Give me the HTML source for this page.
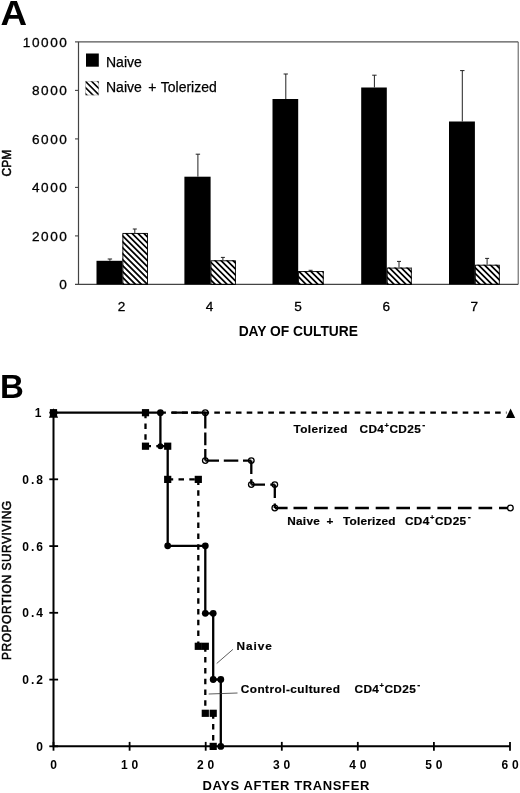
<!DOCTYPE html>
<html><head><meta charset="utf-8"><title>Figure</title>
<style>html,body{margin:0;padding:0;background:#fff;}svg{display:block;will-change:transform;}text{font-family:"Liberation Sans", sans-serif;fill:#000;}</style>
</head><body>
<svg width="520" height="793" viewBox="0 0 520 793">
<defs>
</defs>
<rect width="520" height="793" fill="#fff"/>
<text transform="translate(0.6 25.2) scale(1.07 1)" font-size="34.4" font-weight="bold">A</text>
<path d="M75.0 41.9 H518.2" stroke="#555" stroke-width="1.2" fill="none"/>
<path d="M518.2 41.9 V284.4" stroke="#555" stroke-width="1" fill="none"/>
<path d="M78.5 41.9 V284.4" stroke="#444" stroke-width="1.2" fill="none"/>
<path d="M75.0 284.4 H518.2" stroke="#444" stroke-width="1.4" fill="none"/>
<text x="68.4" y="289.3" font-size="13.6" letter-spacing="1.55" text-anchor="end" stroke="#000" stroke-width="0.3">0</text>
<path d="M75.0 235.9 H78.5" stroke="#444" stroke-width="1.1"/>
<text x="68.4" y="240.8" font-size="13.6" letter-spacing="1.55" text-anchor="end" stroke="#000" stroke-width="0.3">2000</text>
<path d="M75.0 187.4 H78.5" stroke="#444" stroke-width="1.1"/>
<text x="68.4" y="192.3" font-size="13.6" letter-spacing="1.55" text-anchor="end" stroke="#000" stroke-width="0.3">4000</text>
<path d="M75.0 138.9 H78.5" stroke="#444" stroke-width="1.1"/>
<text x="68.4" y="143.8" font-size="13.6" letter-spacing="1.55" text-anchor="end" stroke="#000" stroke-width="0.3">6000</text>
<path d="M75.0 90.4 H78.5" stroke="#444" stroke-width="1.1"/>
<text x="68.4" y="95.3" font-size="13.6" letter-spacing="1.55" text-anchor="end" stroke="#000" stroke-width="0.3">8000</text>
<text x="68.4" y="46.8" font-size="13.6" letter-spacing="1.55" text-anchor="end" stroke="#000" stroke-width="0.3">10000</text>
<rect x="86" y="53.5" width="12.8" height="13.2" fill="#000"/>
<clipPath id="cl"><rect x="85.40" y="81.00" width="13.60" height="14.20"/></clipPath><path d="M83.40 66.90 L101.00 84.50 M83.40 73.10 L101.00 90.70 M83.40 79.30 L101.00 96.90 M83.40 85.50 L101.00 103.10 M83.40 91.70 L101.00 109.30" stroke="#000" stroke-width="1.60" fill="none" clip-path="url(#cl)"/>
<rect x="85.6" y="81.2" width="13.2" height="13.8" fill="none" stroke="#999" stroke-width="0.5"/>
<text x="106" y="66.6" font-size="14" stroke="#000" stroke-width="0.25">Naive</text>
<text x="106" y="92.4" font-size="14" word-spacing="2.1" stroke="#000" stroke-width="0.25">Naive <tspan dx="0.5">+</tspan> <tspan dx="-1.5">Tolerized</tspan></text>
<rect x="96.5" y="260.8" width="25.9" height="23.6" fill="#000"/>
<clipPath id="c0"><rect x="122.40" y="233.00" width="25.50" height="51.40"/></clipPath><path d="M120.40 203.95 L149.90 233.45 M120.40 209.89 L149.90 239.39 M120.40 215.83 L149.90 245.33 M120.40 221.77 L149.90 251.27 M120.40 227.71 L149.90 257.21 M120.40 233.65 L149.90 263.15 M120.40 239.59 L149.90 269.09 M120.40 245.53 L149.90 275.03 M120.40 251.47 L149.90 280.97 M120.40 257.41 L149.90 286.91 M120.40 263.35 L149.90 292.85 M120.40 269.29 L149.90 298.79 M120.40 275.23 L149.90 304.73 M120.40 281.17 L149.90 310.67" stroke="#000" stroke-width="1.75" fill="none" clip-path="url(#c0)"/>
<rect x="122.9" y="233.4" width="24.6" height="50.9" fill="none" stroke="#000" stroke-width="0.9"/>
<path d="M109.9 260.8 V259.0 M107.7 259.0 H112.1" stroke="#222" stroke-width="1" fill="none"/>
<path d="M134.8 233.0 V229.0 M132.8 229.0 H136.8" stroke="#222" stroke-width="1" fill="none"/>
<rect x="184.4" y="176.7" width="26.2" height="107.7" fill="#000"/>
<clipPath id="c1"><rect x="210.60" y="260.30" width="25.30" height="24.10"/></clipPath><path d="M208.60 230.27 L237.90 259.57 M208.60 236.21 L237.90 265.51 M208.60 242.15 L237.90 271.45 M208.60 248.09 L237.90 277.39 M208.60 254.03 L237.90 283.33 M208.60 259.97 L237.90 289.27 M208.60 265.91 L237.90 295.21 M208.60 271.85 L237.90 301.15 M208.60 277.79 L237.90 307.09 M208.60 283.73 L237.90 313.03" stroke="#000" stroke-width="1.75" fill="none" clip-path="url(#c1)"/>
<rect x="211.0" y="260.8" width="24.4" height="23.6" fill="none" stroke="#000" stroke-width="0.9"/>
<path d="M197.9 176.7 V154.2 M195.7 154.2 H200.1" stroke="#222" stroke-width="1" fill="none"/>
<path d="M222.9 260.3 V257.4 M220.9 257.4 H224.9" stroke="#222" stroke-width="1" fill="none"/>
<rect x="272.5" y="99.0" width="25.7" height="185.4" fill="#000"/>
<clipPath id="c2"><rect x="298.20" y="271.10" width="25.50" height="13.30"/></clipPath><path d="M296.20 244.85 L325.70 274.35 M296.20 250.79 L325.70 280.29 M296.20 256.73 L325.70 286.23 M296.20 262.67 L325.70 292.17 M296.20 268.61 L325.70 298.11 M296.20 274.55 L325.70 304.05 M296.20 280.49 L325.70 309.99" stroke="#000" stroke-width="1.75" fill="none" clip-path="url(#c2)"/>
<rect x="298.6" y="271.6" width="24.6" height="12.8" fill="none" stroke="#000" stroke-width="0.9"/>
<path d="M285.8 99.0 V74.0 M283.6 74.0 H287.9" stroke="#222" stroke-width="1" fill="none"/>
<path d="M310.6 271.1 V270.3 M308.6 270.3 H312.6" stroke="#222" stroke-width="1" fill="none"/>
<rect x="361.2" y="87.5" width="25.6" height="196.9" fill="#000"/>
<clipPath id="c3"><rect x="386.80" y="267.60" width="25.00" height="16.80"/></clipPath><path d="M384.80 239.45 L413.80 268.45 M384.80 245.39 L413.80 274.39 M384.80 251.33 L413.80 280.33 M384.80 257.27 L413.80 286.27 M384.80 263.21 L413.80 292.21 M384.80 269.15 L413.80 298.15 M384.80 275.09 L413.80 304.09 M384.80 281.03 L413.80 310.03" stroke="#000" stroke-width="1.75" fill="none" clip-path="url(#c3)"/>
<rect x="387.2" y="268.1" width="24.1" height="16.3" fill="none" stroke="#000" stroke-width="0.9"/>
<path d="M374.4 87.5 V75.2 M372.2 75.2 H376.6" stroke="#222" stroke-width="1" fill="none"/>
<path d="M399.0 267.6 V261.4 M397.0 261.4 H401.0" stroke="#222" stroke-width="1" fill="none"/>
<rect x="449.0" y="121.5" width="25.9" height="162.9" fill="#000"/>
<clipPath id="c4"><rect x="474.90" y="264.80" width="24.90" height="19.60"/></clipPath><path d="M472.90 235.60 L501.80 264.50 M472.90 241.54 L501.80 270.44 M472.90 247.48 L501.80 276.38 M472.90 253.42 L501.80 282.32 M472.90 259.36 L501.80 288.26 M472.90 265.30 L501.80 294.20 M472.90 271.24 L501.80 300.14 M472.90 277.18 L501.80 306.08 M472.90 283.12 L501.80 312.02" stroke="#000" stroke-width="1.75" fill="none" clip-path="url(#c4)"/>
<rect x="475.3" y="265.2" width="24.0" height="19.1" fill="none" stroke="#000" stroke-width="0.9"/>
<path d="M462.3 121.5 V70.6 M460.1 70.6 H464.5" stroke="#222" stroke-width="1" fill="none"/>
<path d="M487.1 264.8 V258.4 M485.1 258.4 H489.1" stroke="#222" stroke-width="1" fill="none"/>
<text x="121.6" y="311.2" font-size="13.6" text-anchor="middle" stroke="#000" stroke-width="0.3">2</text>
<text x="209.6" y="311.2" font-size="13.6" text-anchor="middle" stroke="#000" stroke-width="0.3">4</text>
<text x="298.0" y="311.2" font-size="13.6" text-anchor="middle" stroke="#000" stroke-width="0.3">5</text>
<text x="386.4" y="311.2" font-size="13.6" text-anchor="middle" stroke="#000" stroke-width="0.3">6</text>
<text x="474.2" y="311.2" font-size="13.6" text-anchor="middle" stroke="#000" stroke-width="0.3">7</text>
<text x="298.3" y="336.1" font-size="13.8" font-weight="bold" text-anchor="middle">DAY OF CULTURE</text>
<text transform="translate(11.2 163.2) rotate(-90)" font-size="12" text-anchor="middle" stroke="#000" stroke-width="0.5">CPM</text>
<text x="0" y="398" font-size="33" font-weight="bold">B</text>
<path d="M53.5 412.6 V746.3 H510.0" stroke="#000" stroke-width="2" fill="none"/>
<path d="M49.3 746.3 H58.1" stroke="#000" stroke-width="1.8"/>
<text x="45.0" y="750.7" font-size="12" font-weight="bold" letter-spacing="2" text-anchor="end">0</text>
<path d="M49.3 679.6 H58.1" stroke="#000" stroke-width="1.8"/>
<text x="45.0" y="684.0" font-size="12" font-weight="bold" letter-spacing="2" text-anchor="end">0.2</text>
<path d="M49.3 612.8 H58.1" stroke="#000" stroke-width="1.8"/>
<text x="45.0" y="617.2" font-size="12" font-weight="bold" letter-spacing="2" text-anchor="end">0.4</text>
<path d="M49.3 546.1 H58.1" stroke="#000" stroke-width="1.8"/>
<text x="45.0" y="550.5" font-size="12" font-weight="bold" letter-spacing="2" text-anchor="end">0.6</text>
<path d="M49.3 479.3 H58.1" stroke="#000" stroke-width="1.8"/>
<text x="45.0" y="483.7" font-size="12" font-weight="bold" letter-spacing="2" text-anchor="end">0.8</text>
<path d="M49.3 412.6 H58.1" stroke="#000" stroke-width="1.8"/>
<text x="43.4" y="417.0" font-size="12" font-weight="bold" letter-spacing="2" text-anchor="end">1</text>
<path d="M53.5 741.9 V750.7" stroke="#000" stroke-width="1.8"/>
<text x="55.4" y="769" font-size="12" font-weight="bold" letter-spacing="3.8" text-anchor="middle">0</text>
<path d="M129.6 741.9 V750.7" stroke="#000" stroke-width="1.8"/>
<text x="131.5" y="769" font-size="12" font-weight="bold" letter-spacing="3.8" text-anchor="middle">10</text>
<path d="M205.7 741.9 V750.7" stroke="#000" stroke-width="1.8"/>
<text x="207.6" y="769" font-size="12" font-weight="bold" letter-spacing="3.8" text-anchor="middle">20</text>
<path d="M281.8 741.9 V750.7" stroke="#000" stroke-width="1.8"/>
<text x="283.6" y="769" font-size="12" font-weight="bold" letter-spacing="3.8" text-anchor="middle">30</text>
<path d="M357.8 741.9 V750.7" stroke="#000" stroke-width="1.8"/>
<text x="359.7" y="769" font-size="12" font-weight="bold" letter-spacing="3.8" text-anchor="middle">40</text>
<path d="M433.9 741.9 V750.7" stroke="#000" stroke-width="1.8"/>
<text x="435.8" y="769" font-size="12" font-weight="bold" letter-spacing="3.8" text-anchor="middle">50</text>
<path d="M510.0 741.9 V750.7" stroke="#000" stroke-width="1.8"/>
<text x="511.9" y="769" font-size="12" font-weight="bold" letter-spacing="3.8" text-anchor="middle">60</text>
<text x="286.2" y="790.4" font-size="13" font-weight="bold" letter-spacing="0.62" text-anchor="middle">DAYS AFTER TRANSFER</text>
<text transform="translate(11.3 580.1) rotate(-90)" font-size="12" letter-spacing="0.5" text-anchor="middle" stroke="#000" stroke-width="0.5">PROPORTION SURVIVING</text>
<path d="M160.3 412.7 H165.9 M171.1 412.7 H176.7 M181.9 412.7 H187.5 M192.7 412.7 H198.3 M203.5 412.7 H209.1 M214.3 412.7 H219.9 M225.1 412.7 H230.7 M235.9 412.7 H241.5 M246.7 412.7 H252.3 M257.5 412.7 H263.1 M268.3 412.7 H273.9 M279.1 412.7 H284.7 M289.9 412.7 H295.5 M300.7 412.7 H306.3 M311.5 412.7 H317.1 M322.3 412.7 H327.9 M333.1 412.7 H338.7 M343.9 412.7 H349.5 M354.7 412.7 H360.3 M365.5 412.7 H371.1 M376.3 412.7 H381.9 M387.1 412.7 H392.7 M397.9 412.7 H403.5 M408.7 412.7 H414.3 M419.5 412.7 H425.1 M430.3 412.7 H435.9 M441.1 412.7 H446.7 M451.9 412.7 H457.5 M462.7 412.7 H468.3 M473.5 412.7 H479.1 M484.3 412.7 H489.9 M495.1 412.7 H500.7 M505.9 412.7 H506.5" stroke="#000" stroke-width="2.3" fill="none"/>
<path d="M172.0 412.7 H188.0 M191.0 412.7 H205.3" stroke="#000" stroke-width="2.3" fill="none"/>
<path d="M205.3 412.7 V428.6 M205.3 432.5 V445.3 M205.3 449.1 V460.6" stroke="#000" stroke-width="2.3" fill="none"/>
<path d="M205.3 460.6 H219.0 M223.8 460.6 H238.3 M243.0 460.6 H251.3" stroke="#000" stroke-width="2.3" fill="none"/>
<path d="M251.3 460.6 V474.0 M251.3 479.3 V484.6" stroke="#000" stroke-width="2.3" fill="none"/>
<path d="M251.3 484.6 H265.0 M270.3 484.6 H274.8" stroke="#000" stroke-width="2.3" fill="none"/>
<path d="M274.8 484.6 V498.0 M274.8 503.4 V508.0" stroke="#000" stroke-width="2.3" fill="none"/>
<path d="M274.8 508.0 H287.6 M293.5 508.0 H307.2 M314.1 508.0 H327.8 M334.6 508.0 H348.3 M355.2 508.0 H368.9 M375.7 508.0 H389.4 M396.3 508.0 H410.0 M416.8 508.0 H430.5 M437.4 508.0 H451.1 M457.9 508.0 H471.6 M478.5 508.0 H492.2 M499.0 508.0 H507.6" stroke="#000" stroke-width="2.3" fill="none"/>
<path d="M145.5 412.7 V418.2 M145.5 423.5 V429.0 M145.5 434.3 V439.8 M145.5 445.1 V446.2" stroke="#000" stroke-width="2.3" fill="none"/>
<path d="M145.5 446.2 H151.0 M156.3 446.2 H161.8 M167.1 446.2 H167.7" stroke="#000" stroke-width="2.3" fill="none"/>
<path d="M167.7 479.4 H173.2 M178.5 479.4 H184.0 M189.3 479.4 H194.8" stroke="#000" stroke-width="2.3" fill="none"/>
<path d="M198.3 479.4 V484.9 M198.3 490.2 V495.7 M198.3 501.0 V506.5 M198.3 511.8 V517.3 M198.3 522.6 V528.1 M198.3 533.4 V538.9 M198.3 544.2 V549.7 M198.3 555.0 V560.5 M198.3 565.8 V571.3 M198.3 576.6 V582.1 M198.3 587.4 V592.9 M198.3 598.2 V603.7 M198.3 609.0 V614.5 M198.3 619.8 V625.3 M198.3 630.6 V636.1 M198.3 641.4 V646.3" stroke="#000" stroke-width="2.3" fill="none"/>
<path d="M205.3 646.3 V651.8 M205.3 657.1 V662.6 M205.3 667.9 V673.4 M205.3 678.7 V684.2 M205.3 689.5 V695.0 M205.3 700.3 V705.8 M205.3 711.1 V713.3" stroke="#000" stroke-width="2.3" fill="none"/>
<path d="M213.2 713.3 V718.8 M213.2 724.1 V729.6 M213.2 734.9 V740.4 M213.2 745.7 V746.4" stroke="#000" stroke-width="2.3" fill="none"/>
<path d="M53.5 412.7 L160.4 412.7 L160.4 446.2 L167.7 446.2 L167.7 545.8 L205.3 545.8 L205.3 613.3 L213.2 613.3 L213.2 679.5 L220.8 679.5 L220.8 746.4" stroke="#000" stroke-width="2.3" fill="none"/>
<rect x="49.9" y="409.1" width="7.2" height="7.2" fill="#000"/>
<rect x="141.9" y="409.1" width="7.2" height="7.2" fill="#000"/>
<rect x="141.9" y="442.6" width="7.2" height="7.2" fill="#000"/>
<rect x="164.1" y="442.6" width="7.2" height="7.2" fill="#000"/>
<rect x="164.1" y="475.8" width="7.2" height="7.2" fill="#000"/>
<rect x="194.7" y="475.8" width="7.2" height="7.2" fill="#000"/>
<rect x="194.7" y="642.7" width="7.2" height="7.2" fill="#000"/>
<rect x="201.7" y="642.7" width="7.2" height="7.2" fill="#000"/>
<rect x="201.7" y="709.7" width="7.2" height="7.2" fill="#000"/>
<rect x="209.6" y="709.7" width="7.2" height="7.2" fill="#000"/>
<rect x="209.6" y="742.8" width="7.2" height="7.2" fill="#000"/>
<circle cx="160.4" cy="412.7" r="3.4" fill="#000"/>
<circle cx="160.4" cy="446.2" r="3.0" fill="#000"/>
<circle cx="167.7" cy="545.8" r="3.4" fill="#000"/>
<circle cx="205.3" cy="545.8" r="3.4" fill="#000"/>
<circle cx="205.3" cy="613.3" r="3.4" fill="#000"/>
<circle cx="213.2" cy="613.3" r="3.4" fill="#000"/>
<circle cx="213.2" cy="679.5" r="3.4" fill="#000"/>
<circle cx="220.8" cy="679.5" r="3.4" fill="#000"/>
<circle cx="220.8" cy="746.4" r="3.4" fill="#000"/>
<circle cx="205.3" cy="412.7" r="2.8" fill="none" stroke="#000" stroke-width="1.3"/>
<circle cx="205.3" cy="460.6" r="2.8" fill="none" stroke="#000" stroke-width="1.3"/>
<circle cx="251.3" cy="460.6" r="2.8" fill="none" stroke="#000" stroke-width="1.3"/>
<circle cx="251.3" cy="484.6" r="2.8" fill="none" stroke="#000" stroke-width="1.3"/>
<circle cx="274.8" cy="484.6" r="2.8" fill="none" stroke="#000" stroke-width="1.3"/>
<circle cx="274.8" cy="508.0" r="2.8" fill="none" stroke="#000" stroke-width="1.3"/>
<circle cx="510.4" cy="508.0" r="2.8" fill="#fff" stroke="#000" stroke-width="1.3"/>
<path d="M53.5 408.3 L58.1 417.8 L48.9 417.8 Z" fill="#000"/>
<path d="M510.6 408.4 L515.2 417.9 L506.0 417.9 Z" fill="#000"/>
<text x="293.5" y="433.0" font-size="11.8" font-weight="bold" letter-spacing="0.38" stroke="#000" stroke-width="0.2" xml:space="preserve">Tolerized</text>
<text x="359.6" y="433.0" font-size="11.8" font-weight="bold" letter-spacing="0.35" stroke="#000" stroke-width="0.2" xml:space="preserve">CD4<tspan font-size="7.5" dy="-5" dx="0.3">+</tspan><tspan dy="5" dx="0.2">CD25</tspan><tspan font-size="9" dy="-5.2" dx="1.2">-</tspan></text>
<text x="287.2" y="525.0" font-size="11.8" font-weight="bold" letter-spacing="0.30" stroke="#000" stroke-width="0.2" xml:space="preserve">Naive</text>
<text x="326.4" y="525.0" font-size="11.8" font-weight="bold" letter-spacing="0.00" stroke="#000" stroke-width="0.2" xml:space="preserve">+</text>
<text x="343.0" y="525.0" font-size="11.8" font-weight="bold" letter-spacing="0.20" stroke="#000" stroke-width="0.2" xml:space="preserve">Tolerized</text>
<text x="405.0" y="525.0" font-size="11.8" font-weight="bold" letter-spacing="0.35" stroke="#000" stroke-width="0.2" xml:space="preserve">CD4<tspan font-size="7.5" dy="-5" dx="0.3">+</tspan><tspan dy="5" dx="0.2">CD25</tspan><tspan font-size="9" dy="-5.2" dx="1.2">-</tspan></text>
<text x="236.4" y="650.2" font-size="11.8" font-weight="bold" letter-spacing="1.00" stroke="#000" stroke-width="0.2" xml:space="preserve">Naive</text>
<text x="240.8" y="693.2" font-size="11.8" font-weight="bold" letter-spacing="0.45" stroke="#000" stroke-width="0.2" xml:space="preserve">Control-cultured</text>
<text x="354.6" y="693.2" font-size="11.8" font-weight="bold" letter-spacing="0.35" stroke="#000" stroke-width="0.2" xml:space="preserve">CD4<tspan font-size="7.5" dy="-5" dx="0.3">+</tspan><tspan dy="5" dx="0.2">CD25</tspan><tspan font-size="9" dy="-5.2" dx="1.2">-</tspan></text>
<path d="M232.9 649.4 L216.7 663.5" stroke="#333" stroke-width="0.8" fill="none"/>
<path d="M208.7 694 L237.5 693" stroke="#333" stroke-width="0.8" fill="none"/>
</svg>
</body></html>
